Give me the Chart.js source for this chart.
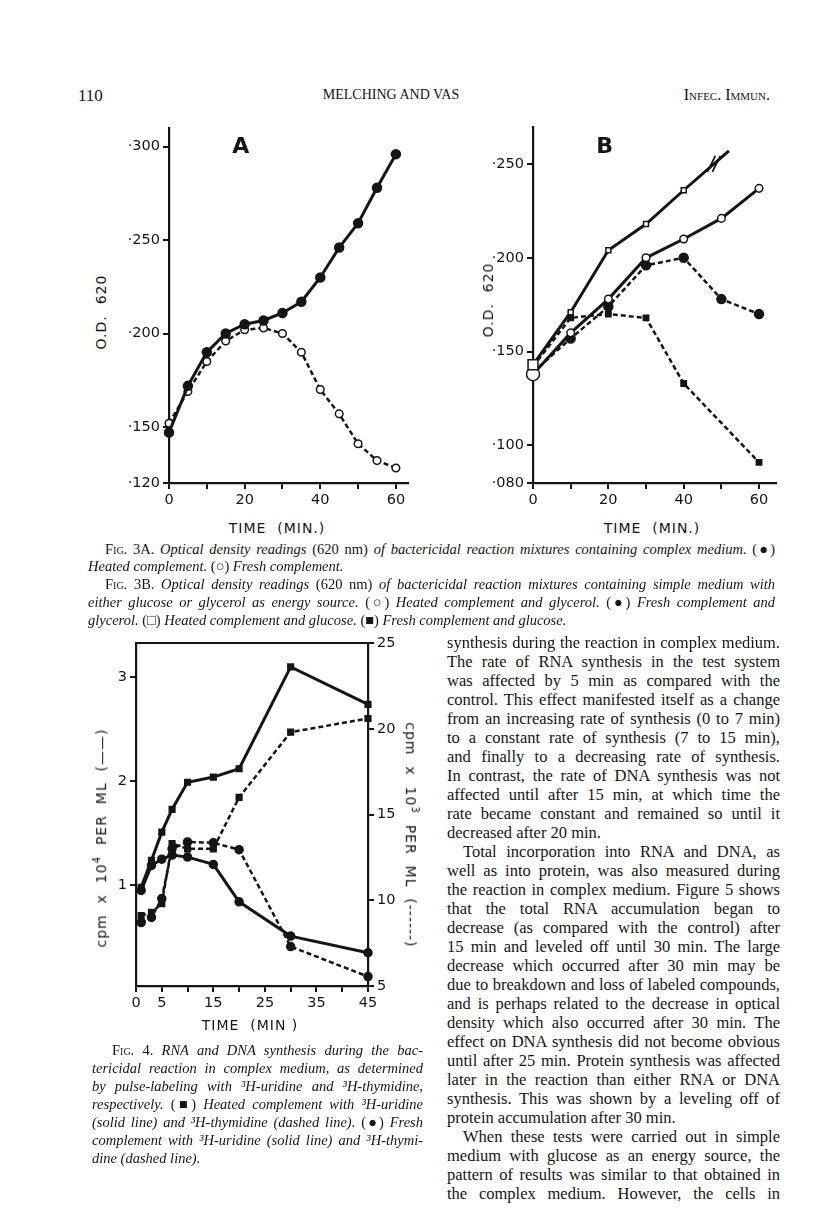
<!DOCTYPE html>
<html>
<head>
<meta charset="utf-8">
<script src="https://cdn.jsdelivr.net/npm/chart.js@4.4.1/dist/chart.umd.min.js"></script>
<style>
body{margin:0;background:#fff;width:816px;height:1228px;position:relative;overflow:hidden;font-family:"Liberation Serif",serif;color:#151515}
.abs{position:absolute;white-space:nowrap}
.ln{position:absolute;text-align:justify;text-align-last:justify}
.ln.end{text-align-last:left}
.body{font-size:16.5px;line-height:19px}
.cap{font-style:italic;font-size:14.5px;line-height:17px}
.sc{font-style:normal;font-variant:small-caps}
.rm{font-style:normal}
.lab{font-family:"DejaVu Sans",sans-serif;font-size:14px;letter-spacing:0.5px}
.rot{transform:translate(-50%,-50%) rotate(-90deg)}
.rotR{transform:translate(-50%,-50%) rotate(90deg)}
canvas{position:absolute}
</style>
</head>
<body>

<div class="abs" style="left:78px;top:86px;font-size:17px">110</div>
<div class="abs" style="left:391px;top:87px;font-size:14px;transform:translateX(-50%)">MELCHING AND VAS</div>
<div class="abs" style="right:46px;top:86px;font-size:16px;font-variant:small-caps">Infec. Immun.</div>

<canvas id="chartA" width="310" height="400" style="left:110px;top:110px"></canvas>
<canvas id="chartB" width="320" height="400" style="left:470px;top:110px"></canvas>
<canvas id="chart4" width="330" height="395" style="left:90px;top:625px"></canvas>

<div class="abs lab" style="left:241px;top:145px;font-size:22px;font-weight:bold;transform:translate(-50%,-50%)">A</div>
<div class="abs lab" style="left:605px;top:145px;font-size:22px;font-weight:bold;transform:translate(-50%,-50%)">B</div>
<div class="abs lab rot" style="left:101px;top:312px;letter-spacing:1px">O.D.&nbsp; 620</div>
<div class="abs lab rot" style="left:488px;top:300px;letter-spacing:1px">O.D.&nbsp; 620</div>
<div class="abs lab" style="left:277px;top:528px;letter-spacing:1px;transform:translate(-50%,-50%)">TIME&nbsp; (MIN.)</div>
<div class="abs lab" style="left:652px;top:528px;letter-spacing:1px;transform:translate(-50%,-50%)">TIME&nbsp; (MIN.)</div>
<div class="abs lab" style="left:250px;top:1025px;letter-spacing:1px;transform:translate(-50%,-50%)">TIME&nbsp; (MIN )</div>
<div class="abs lab rot" style="left:100px;top:838px;letter-spacing:1px">cpm&nbsp; x&nbsp; 10<sup style="font-size:10px">4</sup>&nbsp; PER&nbsp; ML&nbsp; (——)</div>
<div class="abs lab rotR" style="left:412px;top:835px;letter-spacing:1px">cpm&nbsp; x&nbsp; 10<sup style="font-size:10px">3</sup>&nbsp; PER&nbsp; ML&nbsp; (------)</div>

<div id="text"></div>

<script>
// Fig. 3A
var timesA = [0, 5, 10, 15, 20, 25, 30, 35, 40, 45, 50, 55, 60];
var heatedA = [0.147, 0.172, 0.190, 0.200, 0.205, 0.207, 0.211, 0.217, 0.230, 0.246, 0.259, 0.278, 0.296];
var freshA = [0.152, 0.169, 0.185, 0.196, 0.202, 0.203, 0.200, 0.190, 0.170, 0.157, 0.141, 0.132, 0.128];
var yTicksA = [0.120, 0.150, 0.200, 0.250, 0.300];
var xTicksA = [0, 10, 20, 30, 40, 50, 60];
var xLabelsA = [0, 20, 40, 60];

// Fig. 3B
var timesB = [0, 10, 20, 30, 40, 50, 60];
var glycerolHeated = [0.138, 0.160, 0.178, 0.200, 0.210, 0.221, 0.237];
var glycerolFresh = [0.139, 0.157, 0.174, 0.196, 0.200, 0.178, 0.170];
var glucoseFresh = [0.142, 0.168, 0.170, 0.168, 0.133, null, 0.091];
var timesGlucoseHeated = [0, 10, 20, 30, 40, 52];
var glucoseHeated = [0.143, 0.171, 0.204, 0.218, 0.236, 0.257];
var breakTime = 48;
var yTicksB = [0.080, 0.100, 0.150, 0.200, 0.250];
var xTicksB = [0, 10, 20, 30, 40, 50, 60];
var xLabelsB = [0, 20, 40, 60];

// Fig. 4
var times4 = [1, 3, 5, 7, 10, 15, 20, 30, 45];
var uridineHeated = [0.98, 1.24, 1.51, 1.73, 1.99, 2.04, 2.12, 3.10, 2.74];
var uridineFresh = [0.95, 1.19, 1.25, 1.29, 1.27, 1.20, 0.84, 0.51, 0.35];
var thymidineHeated = [9.1, 9.3, 9.8, 13.3, 13.0, 13.0, 16.0, 19.8, 20.6];
var thymidineFresh = [8.7, 9.0, 10.1, 13.0, 13.4, 13.35, 12.95, 7.3, 5.55];
var yTicks4Left = [1, 2, 3];
var yTicks4Right = [5, 10, 15, 20, 25];
var xTicks4 = [0, 5, 10, 15, 20, 25, 30, 35, 40, 45];
var xLabels4 = [0, 5, 15, 25, 35, 45];

var INK = '#151515';

function pts(xs, ys) {
    return xs.map(function (x, i) { return { x: x, y: ys[i] }; });
}

function axis(o) {
    return {
        type: 'linear',
        position: o.pos,
        min: o.min,
        max: o.max,
        afterBuildTicks: function (scale) {
            scale.ticks = o.ticks.map(function (v) { return { value: v }; });
        },
        afterFit: function (scale) {
            if (scale.isHorizontal()) scale.height = o.size;
            else scale.width = o.size;
        },
        border: { display: true, color: INK, width: 2.2 },
        grid: { drawOnChartArea: false, drawTicks: true, tickLength: 6, color: INK, lineWidth: 2 },
        ticks: {
            color: INK, padding: 3, autoSkip: false, maxRotation: 0,
            font: { family: 'DejaVu Sans', size: 14.5 },
            callback: o.fmt
        }
    };
}

// ".300" is printed as "·300" on the page
function odLabel(v) { return '·' + v.toFixed(3).slice(2); }
function pick(list) { return function (v) { return list.indexOf(v) >= 0 ? String(v) : ''; }; }

function line(data, o) {
    return Object.assign({
        data: data,
        borderColor: INK,
        borderWidth: 3,
        pointBorderColor: INK,
        pointBackgroundColor: INK,
        pointBorderWidth: 1.5,
        pointRadius: 4.5,
        tension: 0,
        clip: false,
        spanGaps: true
    }, o);
}

var common = {
    responsive: false,
    animation: false,
    devicePixelRatio: 1,
    plugins: { legend: { display: false }, tooltip: { enabled: false } }
};

new Chart(document.getElementById('chartA'), {
    type: 'line',
    data: {
        datasets: [
            line(pts(timesA, heatedA), {}),
            line(pts(timesA, freshA), { borderWidth: 2.5, borderDash: [5, 3], pointBackgroundColor: '#fff', pointRadius: 3.8 })
        ]
    },
    options: Object.assign({}, common, {
        layout: { padding: { top: 18, right: 12, left: 0, bottom: 0 } },
        scales: {
            x: axis({ pos: 'bottom', min: 0, max: 63.2, ticks: xTicksA, size: 27, fmt: pick(xLabelsA) }),
            y: axis({ pos: 'left', min: 0.120, max: 0.310, ticks: yTicksA, size: 59, fmt: odLabel })
        }
    })
});

var breakMark = {
    id: 'breakMark',
    afterDatasetsDraw: function (chart) {
        var xs = chart.scales.x, ys = chart.scales.y, ctx = chart.ctx;
        var i = timesGlucoseHeated.findIndex(function (t) { return t > breakTime; });
        var t0 = timesGlucoseHeated[i - 1], t1 = timesGlucoseHeated[i];
        var v = glucoseHeated[i - 1] + (glucoseHeated[i] - glucoseHeated[i - 1]) * (breakTime - t0) / (t1 - t0);
        var px = xs.getPixelForValue(breakTime), py = ys.getPixelForValue(v);
        ctx.save();
        ctx.strokeStyle = INK;
        ctx.lineWidth = 1.8;
        [-2.5, 2.5].forEach(function (d) {
            ctx.beginPath();
            ctx.moveTo(px + d - 4, py + 8);
            ctx.lineTo(px + d + 4, py - 8);
            ctx.stroke();
        });
        ctx.restore();
    }
};

new Chart(document.getElementById('chartB'), {
    type: 'line',
    data: {
        datasets: [
            line(pts(timesGlucoseHeated, glucoseHeated), {
                pointStyle: 'rect', pointBackgroundColor: '#fff',
                pointRadius: [7, 3.5, 3.5, 3.5, 3.5, 0]
            }),
            line(pts(timesB, glycerolHeated), {
                pointBackgroundColor: '#fff', pointRadius: [6.5, 3.8, 3.8, 3.8, 3.8, 3.8, 3.8]
            }),
            line(pts(timesB, glycerolFresh), { borderWidth: 2.5, borderDash: [5, 3] }),
            line(pts(timesB, glucoseFresh), { borderWidth: 2.5, borderDash: [5, 3], pointStyle: 'rect', pointRadius: 3.8 })
        ]
    },
    options: Object.assign({}, common, {
        layout: { padding: { top: 17, right: 14, left: 0, bottom: 0 } },
        scales: {
            x: axis({ pos: 'bottom', min: 0, max: 64.5, ticks: xTicksB, size: 27, fmt: pick(xLabelsB) }),
            y: axis({ pos: 'left', min: 0.080, max: 0.2697, ticks: yTicksB, size: 63, fmt: odLabel })
        }
    }),
    plugins: [breakMark]
});

var frame = {
    id: 'frame',
    afterDraw: function (chart) {
        var a = chart.chartArea, ctx = chart.ctx;
        ctx.save();
        ctx.strokeStyle = INK;
        ctx.lineWidth = 2.2;
        ctx.beginPath();
        ctx.moveTo(a.left, a.top);
        ctx.lineTo(a.right, a.top);
        ctx.stroke();
        ctx.restore();
    }
};

new Chart(document.getElementById('chart4'), {
    type: 'line',
    data: {
        datasets: [
            line(pts(times4, uridineHeated), { yAxisID: 'yL', pointStyle: 'rect', pointRadius: 4 }),
            line(pts(times4, uridineFresh), { yAxisID: 'yL', pointRadius: 4 }),
            line(pts(times4, thymidineHeated), { yAxisID: 'yR', borderWidth: 2.5, borderDash: [5, 3], pointStyle: 'rect', pointRadius: 4 }),
            line(pts(times4, thymidineFresh), { yAxisID: 'yR', borderWidth: 2.5, borderDash: [5, 3], pointRadius: 4 })
        ]
    },
    options: Object.assign({}, common, {
        layout: { padding: { top: 18, right: 0, left: 0, bottom: 0 } },
        scales: {
            x: axis({ pos: 'bottom', min: 0, max: 45, ticks: xTicks4, size: 34, fmt: pick(xLabels4) }),
            yL: axis({ pos: 'left', min: 0.03, max: 3.33, ticks: yTicks4Left, size: 46, fmt: function (v) { return String(v); } }),
            yR: axis({ pos: 'right', min: 5, max: 25, ticks: yTicks4Right, size: 52, fmt: function (v) { return String(v); } })
        }
    }),
    plugins: [frame]
});

// text blocks, one div per printed line so the breaks match the page
function lines(list, o) {
    var html = '';
    list.forEach(function (l, i) {
        var top = o.y0 + i * o.dy - o.lh / 2;
        var ind = l.indent ? o.indent : 0;
        html += '<div class="ln ' + o.cls + (l.end ? ' end' : '') + '" style="top:' + top + 'px;left:' +
            (o.x + ind) + 'px;width:' + (o.w - ind) + 'px">' + l.t + '</div>';
    });
    return html;
}

var cap3 = [
    { indent: true, t: '<span class="sc">Fig. 3A.</span> Optical density readings <span class="rm">(620 nm)</span> of bactericidal reaction mixtures containing complex medium. <span class="rm">(●)</span>' },
    { end: true, t: 'Heated complement. <span class="rm">(○)</span> Fresh complement.' },
    { indent: true, t: '<span class="sc">Fig. 3B.</span> Optical density readings <span class="rm">(620 nm)</span> of bactericidal reaction mixtures containing simple medium with' },
    { t: 'either glucose or glycerol as energy source. <span class="rm">(○)</span> Heated complement and glycerol. <span class="rm">(●)</span> Fresh complement and' },
    { end: true, t: 'glycerol. <span class="rm">(□)</span> Heated complement and glucose. <span class="rm">(■)</span> Fresh complement and glucose.' }
];

var cap4 = [
    { indent: true, t: '<span class="sc">Fig. 4.</span> RNA and DNA synthesis during the bac-' },
    { t: 'tericidal reaction in complex medium, as determined' },
    { t: 'by pulse-labeling with ³H-uridine and ³H-thymidine,' },
    { t: 'respectively. <span class="rm">(■)</span> Heated complement with ³H-uridine' },
    { t: '(solid line) and ³H-thymidine (dashed line). <span class="rm">(●)</span> Fresh' },
    { t: 'complement with ³H-uridine (solid line) and ³H-thymi-' },
    { end: true, t: 'dine (dashed line).' }
];

var bodyText = [
    { t: 'synthesis during the reaction in complex medium.' },
    { t: 'The rate of RNA synthesis in the test system' },
    { t: 'was affected by 5 min as compared with the' },
    { t: 'control. This effect manifested itself as a change' },
    { t: 'from an increasing rate of synthesis (0 to 7 min)' },
    { t: 'to a constant rate of synthesis (7 to 15 min),' },
    { t: 'and finally to a decreasing rate of synthesis.' },
    { t: 'In contrast, the rate of DNA synthesis was not' },
    { t: 'affected until after 15 min, at which time the' },
    { t: 'rate became constant and remained so until it' },
    { end: true, t: 'decreased after 20 min.' },
    { indent: true, t: 'Total incorporation into RNA and DNA, as' },
    { t: 'well as into protein, was also measured during' },
    { t: 'the reaction in complex medium. Figure 5 shows' },
    { t: 'that the total RNA accumulation began to' },
    { t: 'decrease (as compared with the control) after' },
    { t: '15 min and leveled off until 30 min. The large' },
    { t: 'decrease which occurred after 30 min may be' },
    { t: 'due to breakdown and loss of labeled compounds,' },
    { t: 'and is perhaps related to the decrease in optical' },
    { t: 'density which also occurred after 30 min. The' },
    { t: 'effect on DNA synthesis did not become obvious' },
    { t: 'until after 25 min. Protein synthesis was affected' },
    { t: 'later in the reaction than either RNA or DNA' },
    { t: 'synthesis. This was shown by a leveling off of' },
    { end: true, t: 'protein accumulation after 30 min.' },
    { indent: true, t: 'When these tests were carried out in simple' },
    { t: 'medium with glucose as an energy source, the' },
    { t: 'pattern of results was similar to that obtained in' },
    { t: 'the complex medium. However, the cells in' }
];

document.getElementById('text').innerHTML =
    lines(cap3, { cls: 'cap', x: 88, w: 687, y0: 549, dy: 17.8, lh: 17, indent: 17 }) +
    lines(cap4, { cls: 'cap', x: 92, w: 331, y0: 1050, dy: 18, lh: 17, indent: 20 }) +
    lines(bodyText, { cls: 'body', x: 447, w: 333, y0: 642, dy: 19, lh: 19, indent: 16 });

// shrink any printed line that would wrap, so each stays on one line
document.querySelectorAll('.ln').forEach(function (el) {
    var cs = getComputedStyle(el);
    var lh = parseFloat(cs.lineHeight), fs = parseFloat(cs.fontSize);
    while (el.offsetHeight > lh * 1.5 && fs > 8) {
        fs -= 0.25;
        el.style.fontSize = fs + 'px';
    }
});
</script>
</body>
</html>
